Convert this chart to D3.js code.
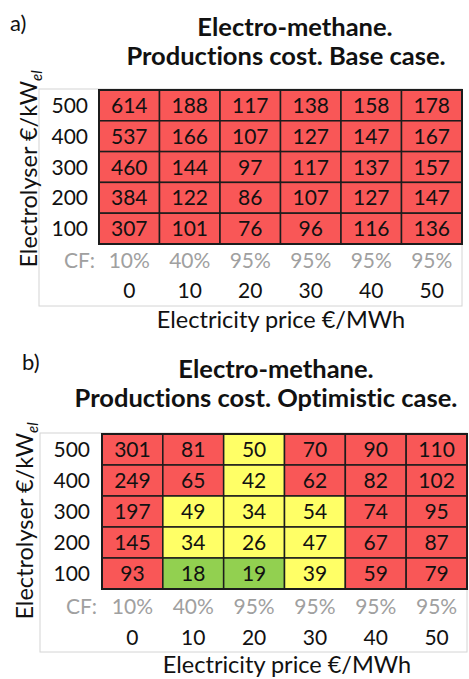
<!DOCTYPE html>
<html><head><meta charset="utf-8">
<script src="https://cdn.jsdelivr.net/npm/d3@7"></script>
<style>body{margin:0;background:#fff}svg{display:block}text{font-family:Lato,"Open Sans",sans-serif;font-variant-ligatures:none}</style>
</head><body>
<svg id="c" width="469" height="679"></svg>
<script>
const prices = [0, 10, 20, 30, 40, 50];
const capacityFactors = ["10%", "40%", "95%", "95%", "95%", "95%"];
const electrolyserCosts = [500, 400, 300, 200, 100];
const baseCase = [
  [614, 188, 117, 138, 158, 178],
  [537, 166, 107, 127, 147, 167],
  [460, 144, 97, 117, 137, 157],
  [384, 122, 86, 107, 127, 147],
  [307, 101, 76, 96, 116, 136]
];
const optimisticCase = [
  [301, 81, 50, 70, 90, 110],
  [249, 65, 42, 62, 82, 102],
  [197, 49, 34, 54, 74, 95],
  [145, 34, 26, 47, 67, 87],
  [93, 18, 19, 39, 59, 79]
];
const panelLabels = ["a)", "b)"];
const titleLine1 = "Electro-methane.";
const titleLine2 = ["Productions cost. Base case.", "Productions cost. Optimistic case."];

const colorA = () => "#f95757";
const colorB = d3.scaleThreshold().domain([20, 55]).range(["#92d050", "#ffff66", "#f95757"]);

const svg = d3.select("#c");

const panels = [
  {data: baseCase, color: colorA, x0: 99, x1: 462, y0: 90, y1: 244,
   box: [39, 89, 462, 306], lab: [10, 31], t1: [295, 36], t2: [286, 65],
   ytitle: [37, 169], rowLabX: 88, cfLabX: 95, cfY: 268, tickY: 298, xtitle: [281, 328]},
  {data: optimisticCase, color: colorB, x0: 102, x1: 467, y0: 434, y1: 589,
   box: [40, 433, 467, 652], lab: [22, 370], t1: [276, 378], t2: [266, 407],
   ytitle: [33, 521], rowLabX: 90, cfLabX: 97, cfY: 614, tickY: 645, xtitle: [287, 673]}
];

panels.forEach((p, i) => {
  const g = svg.append("g");
  const x = d3.scaleBand().domain(prices).range([p.x0, p.x1]);
  const y = d3.scaleBand().domain(electrolyserCosts).range([p.y0, p.y1]);

  g.append("rect").attr("x", p.box[0]).attr("y", p.box[1])
    .attr("width", p.box[2] - p.box[0]).attr("height", p.box[3] - p.box[1])
    .attr("fill", "#fff").attr("stroke", "#d4d4d4").attr("stroke-width", 1);

  g.append("text").attr("x", p.lab[0]).attr("y", p.lab[1])
    .attr("font-size", 22).attr("fill", "#111").text(panelLabels[i]);
  const title = g.append("text").attr("text-anchor", "middle")
    .attr("font-size", 25.5).attr("font-weight", "bold").attr("fill", "#111");
  title.append("tspan").attr("x", p.t1[0]).attr("y", p.t1[1]).text(titleLine1);
  title.append("tspan").attr("x", p.t2[0]).attr("y", p.t2[1]).text(titleLine2[i]);

  const cells = [];
  p.data.forEach((row, r) => row.forEach((v, c) => cells.push({cap: electrolyserCosts[r], price: prices[c], v})));

  g.selectAll("rect.cell").data(cells).join("rect").attr("class", "cell")
    .attr("x", d => x(d.price)).attr("y", d => y(d.cap))
    .attr("width", x.bandwidth()).attr("height", y.bandwidth())
    .attr("fill", d => p.color(d.v)).attr("stroke", "#1c1c1c").attr("stroke-width", 1.5);

  g.selectAll("text.val").data(cells).join("text").attr("class", "val")
    .attr("x", d => x(d.price) + x.bandwidth() / 2).attr("y", d => y(d.cap) + y.bandwidth() / 2)
    .attr("dy", "0.36em").attr("text-anchor", "middle").attr("font-size", 21).attr("fill", "#111")
    .text(d => d.v);

  g.append("rect").attr("x", p.x0).attr("y", p.y0).attr("width", p.x1 - p.x0).attr("height", p.y1 - p.y0)
    .attr("fill", "none").attr("stroke", "#1c1c1c").attr("stroke-width", 2);

  g.selectAll("text.row").data(electrolyserCosts).join("text").attr("class", "row")
    .attr("x", p.rowLabX).attr("y", d => y(d) + y.bandwidth() / 2).attr("dy", "0.36em")
    .attr("text-anchor", "end").attr("font-size", 21).attr("fill", "#111").text(d => d);

  g.append("text").attr("x", p.cfLabX).attr("y", p.cfY).attr("text-anchor", "end")
    .attr("font-size", 21).attr("fill", "#a0a0a0").text("CF:");
  g.selectAll("text.cf").data(prices).join("text").attr("class", "cf")
    .attr("x", d => x(d) + x.bandwidth() / 2).attr("y", p.cfY).attr("text-anchor", "middle")
    .attr("font-size", 21).attr("fill", "#a0a0a0").text((d, k) => capacityFactors[k]);
  g.selectAll("text.tick").data(prices).join("text").attr("class", "tick")
    .attr("x", d => x(d) + x.bandwidth() / 2).attr("y", p.tickY).attr("text-anchor", "middle")
    .attr("font-size", 21).attr("fill", "#111").text(d => d);

  g.append("text").attr("x", p.xtitle[0]).attr("y", p.xtitle[1]).attr("text-anchor", "middle")
    .attr("font-size", 23.5).attr("fill", "#111").text("Electricity price €/MWh");

  const yt = g.append("text").attr("transform", `translate(${p.ytitle[0]},${p.ytitle[1]}) rotate(-90)`)
    .attr("text-anchor", "middle").attr("font-size", 23.5).attr("fill", "#111");
  yt.append("tspan").text("Electrolyser €/kW");
  yt.append("tspan").attr("font-size", 15).attr("font-style", "italic").attr("dy", 5).text("el");
});
</script>
</body></html>
